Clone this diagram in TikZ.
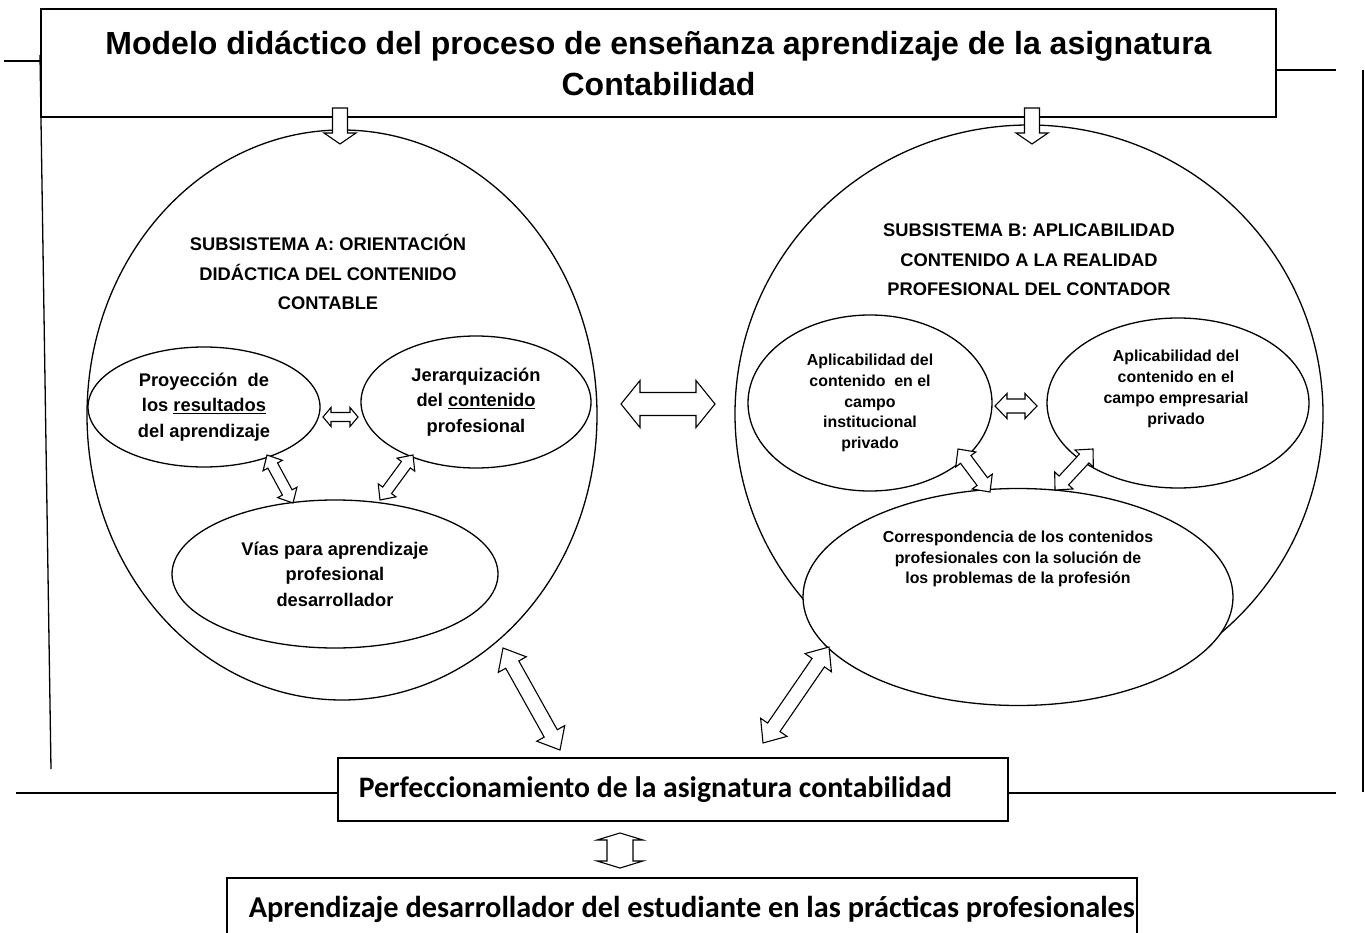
\documentclass[tikz,border=0pt]{standalone}
\usepackage{fontspec}
\setmainfont{Liberation Sans}
\newfontfamily\calib{Carlito}
\usetikzlibrary{shapes.geometric}

\tikzset{
  frame/.style={line width=1.3pt},
  bigell/.style={draw, ellipse, line width=1.3pt, inner sep=0pt},
  smallell/.style={draw, ellipse, line width=1.3pt, fill=white, inner sep=0pt, align=center},
  blk/.style={draw, fill=white, line width=1.1pt, line join=miter},
  subtxt/.style={align=center, inner sep=0pt, font=\bfseries\fontsize{18.3}{29.5}\selectfont},
  eltxt/.style={font=\bfseries\fontsize{18.3}{25.5}\selectfont},
  smtxt/.style={font=\bfseries\fontsize{15.9}{20.8}\selectfont},
  cbox/.style={draw, line width=1.6pt, inner sep=0pt, anchor=west, font=\calib\bfseries\fontsize{29.7}{34}\selectfont},
}

% double block arrow: from, to, half shaft, half head, head length
\newcommand\dblarrow[5]{%
  \pgfpointdiff{\pgfpointanchor{#1}{center}}{\pgfpointanchor{#2}{center}}%
  \pgfgetlastxy{\bdx}{\bdy}%
  \pgfmathsetmacro\balen{veclen(\bdx,\bdy)}%
  \pgfmathsetmacro\baang{atan2(\bdy,\bdx)}%
  \begin{scope}[shift={(#1)},rotate=\baang]
    \draw[blk] (0pt,0pt) -- (#5pt,#4pt) -- (#5pt,#3pt) -- ({\balen pt-#5pt},#3pt)
      -- ({\balen pt-#5pt},#4pt) -- (\balen pt,0pt) -- ({\balen pt-#5pt},-#4pt)
      -- ({\balen pt-#5pt},-#3pt) -- (#5pt,-#3pt) -- (#5pt,-#4pt) -- cycle;
  \end{scope}}
% single block arrow
\newcommand\sglarrow[5]{%
  \pgfpointdiff{\pgfpointanchor{#1}{center}}{\pgfpointanchor{#2}{center}}%
  \pgfgetlastxy{\bdx}{\bdy}%
  \pgfmathsetmacro\balen{veclen(\bdx,\bdy)}%
  \pgfmathsetmacro\baang{atan2(\bdy,\bdx)}%
  \begin{scope}[shift={(#1)},rotate=\baang]
    \draw[blk] (0pt,#3pt) -- ({\balen pt-#5pt},#3pt) -- ({\balen pt-#5pt},#4pt)
      -- (\balen pt,0pt) -- ({\balen pt-#5pt},-#4pt) -- ({\balen pt-#5pt},-#3pt)
      -- (0pt,-#3pt) -- cycle;
  \end{scope}}

\begin{document}
\begin{tikzpicture}[x=1pt,y=-1pt]
\useasboundingbox (0,0) rectangle (1365,933);
\clip (0,0) rectangle (1365,933);

% title
\node[draw, line width=1.8pt, minimum width=1235pt, minimum height=108pt, inner sep=0pt,
      align=center, font=\bfseries\fontsize{32}{41}\selectfont] (title) at (658.5,63)
  {Modelo didáctico del proceso de enseñanza aprendizaje de la asignatura\\Contabilidad};

% outer frame lines
\coordinate (ltop) at (4,61);
\coordinate (rtop) at (1336,70);
\coordinate (lv1) at (40,55);
\coordinate (lv2) at (51,769);
\coordinate (rv1) at (1363,70);
\coordinate (rv2) at (1363,792);
\draw[frame] (ltop) -- (ltop -| title.west);
\draw[frame] (rtop -| title.east) -- (rtop);
\draw[frame] (lv1) -- (lv2);
\draw[frame] (rv1) -- (rv2);

% big subsystems
\node[bigell, minimum width=510pt, minimum height=570pt] (subA) at (342,415) {};
\node[bigell, minimum width=588pt, minimum height=578pt] (subB) at (1029,414) {};

\node[subtxt] (subAt) at (328,272) {SUBSISTEMA A: ORIENTACIÓN\\DIDÁCTICA DEL CONTENIDO\\CONTABLE};
\node[subtxt] (subBt) at (1029,260) {SUBSISTEMA B: APLICABILIDAD\\CONTENIDO A LA REALIDAD\\PROFESIONAL DEL CONTADOR};

% subsystem A components
\node[smallell, eltxt, minimum width=232pt, minimum height=120pt] (proy) at (204,407)
  {Proyección\ \ de\\los \underline{resultados}\\del aprendizaje};
\node[smallell, eltxt, minimum width=230pt, minimum height=132pt] (jer) at (476,402)
  {Jerarquización\\del \underline{contenido}\\profesional};
\node[smallell, eltxt, minimum width=326pt, minimum height=148pt] (vias) at (335,574)
  {Vías para aprendizaje\\profesional\\desarrollador};

% subsystem B components
\node[smallell, smtxt, minimum width=244pt, minimum height=176pt] (inst) at (870,403)
  {Aplicabilidad del\\contenido\ \ en el\\campo\\institucional\\privado};
\node[smallell, minimum width=262pt, minimum height=170pt] (emp) at (1178,403) {};
\node[smtxt, align=center, inner sep=0pt] (empt) at (1176,389)
  {Aplicabilidad del\\contenido en el\\campo empresarial\\privado};
\node[smallell, minimum width=430pt, minimum height=217pt] (corr) at (1018,597) {};
\node[smtxt, align=center, inner sep=0pt] (corrt) at (1018,559)
  {Correspondencia de los contenidos\\profesionales con la solución de\\los problemas de la profesión};

% bottom boxes
\node[cbox, minimum height=63pt] (perf) at (337,789.5)
  {\hspace*{21pt}\makebox[649pt][l]{Perfeccionamiento de la asignatura contabilidad}};
\node[cbox, minimum height=63.7pt, font=\calib\bfseries\fontsize{30.3}{34}\selectfont] (apr) at (226,909.85)
  {\hspace*{22pt}\makebox[888pt][l]{Aprendizaje desarrollador del estudiante en las prácticas profesionales}};

\coordinate (lbot) at (16,793);
\coordinate (rbot) at (1336,793);
\draw[frame] (lbot) -- (lbot -| perf.west);
\draw[frame] (rbot -| perf.east) -- (rbot);

% arrow end points
\coordinate (dA1) at (340,108);  \coordinate (dA2) at (340,144);
\coordinate (dB1) at (1032,108); \coordinate (dB2) at (1032,144);
\coordinate (ab1) at (621,404);  \coordinate (ab2) at (715,404);
\coordinate (pj1) at (323,417);  \coordinate (pj2) at (358,417);
\coordinate (pv1) at (267,455);  \coordinate (pv2) at (293,503);
\coordinate (jv1) at (413,455);  \coordinate (jv2) at (380,500);
\coordinate (ie1) at (995,406);  \coordinate (ie2) at (1037,406);
\coordinate (ic1) at (958,449);  \coordinate (ic2) at (990,492);
\coordinate (ec1) at (1093,449); \coordinate (ec2) at (1055,490);
\coordinate (ap1) at (503,648);  \coordinate (ap2) at (560,750);
\coordinate (bp1) at (829,647);  \coordinate (bp2) at (763,743);
\coordinate (pa1) at (620,833);  \coordinate (pa2) at (620,868);

% arrows
\sglarrow{dA1}{dA2}{7.5}{16}{11}
\sglarrow{dB1}{dB2}{7.5}{16}{11}
\dblarrow{ab1}{ab2}{11.5}{23.5}{19}
\dblarrow{pj1}{pj2}{4.5}{9.5}{8}
\dblarrow{pv1}{pv2}{5.5}{11}{12}
\dblarrow{jv1}{jv2}{5.5}{11}{12}
\dblarrow{ie1}{ie2}{7}{12.5}{12}
\dblarrow{ic1}{ic2}{6.5}{12.5}{13}
\dblarrow{ec1}{ec2}{6.5}{12.5}{13}
\dblarrow{ap1}{ap2}{7.5}{16}{19}
\dblarrow{bp1}{bp2}{7.5}{16}{19}
\dblarrow{pa1}{pa2}{13}{23}{7}
\end{tikzpicture}
\end{document}
